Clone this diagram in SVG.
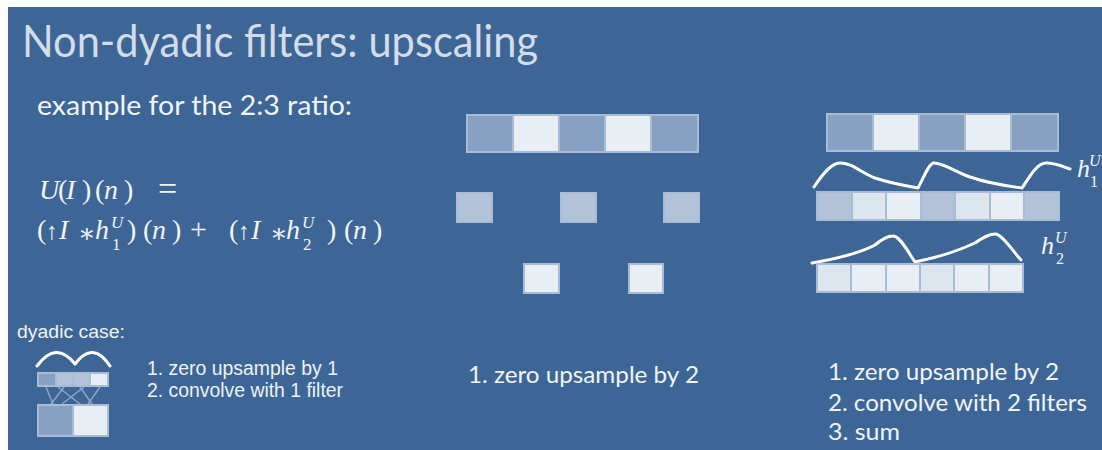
<svg xmlns="http://www.w3.org/2000/svg" width="1102" height="450" viewBox="0 0 1102 450">
<style>
.t{font-family:Lato,"Open Sans","Liberation Sans",sans-serif;fill:#F2F4F8}
.a{font-family:"Liberation Sans",Arial,sans-serif;fill:#EEF1F6}
.m{font-family:"Liberation Serif","DejaVu Serif",serif;fill:#F2F4F8}
.i{font-style:italic}
.c{stroke:#A9BCD6;stroke-width:2}
.d{fill:#88A0C2}
.l{fill:#E9EEF4}
.g{fill:#B2C2D9}
.k{fill:#DDE5EF}
.w{fill:none;stroke:#FFFFFF;stroke-width:3;stroke-linecap:round;stroke-linejoin:round}
.ln{stroke:#8EA5C6;stroke-width:1.5}
</style>
<rect x="0" y="0" width="1102" height="450" fill="#FFFFFF"/>
<rect x="8" y="7" width="1094" height="443" fill="#3D6697"/>

<g id="title">
<text class="t" x="22" y="57" font-size="44" textLength="516" lengthAdjust="spacingAndGlyphs" style="fill:#D3DCE9">Non-dyadic filters: upscaling</text>
</g>
<g id="subtitle">
<text class="t" x="37" y="115" font-size="26" textLength="315" lengthAdjust="spacingAndGlyphs">example for the 2:3 ratio:</text>
</g>

<g id="formula" font-size="28">
<text class="m i" x="39" y="199">U</text>
<text class="m" x="58" y="199">(</text>
<text class="m i" x="66" y="199">I</text>
<text class="m" x="82" y="199">)</text>
<text class="m" x="95" y="199">(</text>
<text class="m i" x="104" y="199">n</text>
<text class="m" x="124" y="199">)</text>
<text class="m" x="158" y="200" font-size="34">=</text>

<text class="m" x="37" y="239">(</text>
<text class="m" x="46" y="239" font-size="24">↑</text>
<text class="m i" x="59" y="239">I</text>
<text class="m" x="78" y="242" font-size="26">∗</text>
<text class="m i" x="95" y="239">h</text>
<text class="m i" x="111" y="228" font-size="17">U</text>
<text class="m" x="112" y="250" font-size="17">1</text>
<text class="m" x="127" y="239">)</text>
<text class="m" x="143" y="239">(</text>
<text class="m i" x="152" y="239">n</text>
<text class="m" x="172" y="239">)</text>
<text class="m" x="190" y="239" font-size="30">+</text>
<text class="m" x="229" y="239">(</text>
<text class="m" x="238" y="239" font-size="24">↑</text>
<text class="m i" x="251" y="239">I</text>
<text class="m" x="270" y="242" font-size="26">∗</text>
<text class="m i" x="286" y="239">h</text>
<text class="m i" x="302" y="228" font-size="17">U</text>
<text class="m" x="303" y="250" font-size="17">2</text>
<text class="m" x="327" y="239">)</text>
<text class="m" x="344" y="239">(</text>
<text class="m i" x="353" y="239">n</text>
<text class="m" x="373" y="239">)</text>
</g>

<g id="dyadic">
<text class="a" x="17" y="338" font-size="18" textLength="108" lengthAdjust="spacingAndGlyphs">dyadic case:</text>
<path class="w" d="M37 366 Q56 340 75 364 Q93 340 110 366"/>
<rect class="c d" x="38" y="373" width="18" height="13"/>
<rect class="c g" x="56" y="373" width="17" height="13"/>
<rect class="c g" x="73" y="373" width="17" height="13"/>
<rect class="c l" x="90" y="373" width="18" height="13"/>
<line class="ln" x1="46" y1="387" x2="53" y2="404"/>
<line class="ln" x1="64" y1="387" x2="51" y2="404"/>
<line class="ln" x1="58" y1="387" x2="80" y2="404"/>
<line class="ln" x1="84" y1="387" x2="62" y2="404"/>
<line class="ln" x1="80" y1="387" x2="92" y2="404"/>
<line class="ln" x1="100" y1="387" x2="88" y2="404"/>
<rect class="c d" x="38" y="405" width="35" height="31"/>
<rect class="c l" x="73" y="405" width="35" height="31"/>
<text class="a" x="147" y="375" font-size="20" textLength="191" lengthAdjust="spacingAndGlyphs">1. zero upsample by 1</text>
<text class="a" x="147" y="397" font-size="20" textLength="196" lengthAdjust="spacingAndGlyphs">2. convolve with 1 filter</text>
</g>

<g id="middle">
<rect class="c d" x="467" y="115" width="46" height="37"/>
<rect class="c l" x="513" y="115" width="46" height="37"/>
<rect class="c d" x="559" y="115" width="46" height="37"/>
<rect class="c l" x="605" y="115" width="46" height="37"/>
<rect class="c d" x="651" y="115" width="47" height="37"/>
<rect class="c g" x="457" y="193" width="35" height="29"/>
<rect class="c g" x="561" y="193" width="35" height="29"/>
<rect class="c g" x="664" y="193" width="35" height="29"/>
<rect class="c l" x="524" y="264" width="35" height="29"/>
<rect class="c l" x="629" y="264" width="34" height="29"/>
<text class="t" x="468" y="383" font-size="23" textLength="231" lengthAdjust="spacingAndGlyphs">1. zero upsample by 2</text>
</g>

<g id="right">
<rect class="c d" x="827" y="114" width="46" height="37"/>
<rect class="c l" x="873" y="114" width="46" height="37"/>
<rect class="c d" x="919" y="114" width="46" height="37"/>
<rect class="c l" x="965" y="114" width="46" height="37"/>
<rect class="c d" x="1011" y="114" width="47" height="37"/>
<path class="w" d="M814 187 C824 172 832 163 840 163 C852 163 860 172 875 178 C893 184 908 186 918 188 C924 177 929 163 934 163 C944 163 955 172 970 177 C990 184 1008 186 1022 188 C1030 176 1037 163 1046 163 C1056 163 1064 167 1070 169"/>
<text class="m i" x="1077" y="177" font-size="26">h</text>
<text class="m i" x="1089" y="166" font-size="16">U</text>
<text class="m" x="1090" y="187" font-size="16">1</text>
<rect class="c g" x="817" y="192" width="35" height="28"/>
<rect class="c k" x="852" y="192" width="34" height="28"/>
<rect class="c l" x="886" y="192" width="35" height="28"/>
<rect class="c g" x="921" y="192" width="34" height="28"/>
<rect class="c k" x="955" y="192" width="35" height="28"/>
<rect class="c l" x="990" y="192" width="34" height="28"/>
<rect class="c g" x="1024" y="192" width="35" height="28"/>
<path class="w" d="M812 263 C835 259 860 253 875 245 C882 239 888 236 893 236 C900 236 908 252 915 262 C935 258 960 250 975 243 C982 238 989 234 995 234 C1002 234 1012 250 1021 260"/>
<text class="m i" x="1041" y="254" font-size="26">h</text>
<text class="m i" x="1055" y="243" font-size="16">U</text>
<text class="m" x="1056" y="264" font-size="16">2</text>
<rect class="c k" x="817" y="264" width="34" height="28"/>
<rect class="c l" x="851" y="264" width="35" height="28"/>
<rect class="c l" x="886" y="264" width="34" height="28"/>
<rect class="c k" x="920" y="264" width="34" height="28"/>
<rect class="c l" x="954" y="264" width="35" height="28"/>
<rect class="c l" x="989" y="264" width="34" height="28"/>
<text class="t" x="828" y="380" font-size="23" textLength="231" lengthAdjust="spacingAndGlyphs">1. zero upsample by 2</text>
<text class="t" x="828" y="411" font-size="23" textLength="259" lengthAdjust="spacingAndGlyphs">2. convolve with 2 filters</text>
<text class="t" x="828" y="440" font-size="23" textLength="72" lengthAdjust="spacingAndGlyphs">3. sum</text>
</g>
</svg>
